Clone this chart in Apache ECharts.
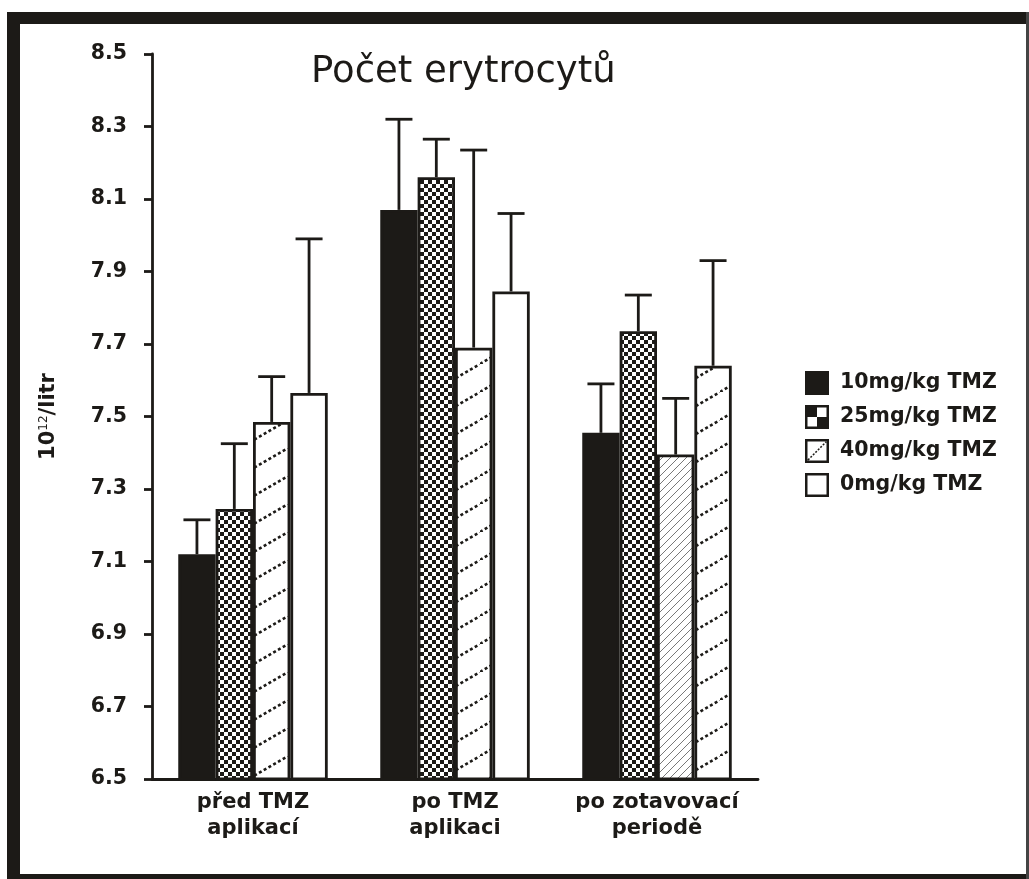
<!DOCTYPE html>
<html>
<head>
<meta charset="utf-8">
<script src="https://cdn.jsdelivr.net/npm/echarts@6/dist/echarts.min.js"></script>
<style>
html,body{margin:0;padding:0;background:#fff;}
#chart{width:1029px;height:879px;}
</style>
</head>
<body>
<div id="chart"></div>
<script>
// ---- data ----
var categories = ['před TMZ\naplikací', 'po TMZ\naplikaci', 'po zotavovací\nperiodě'];
var seriesNames = ['10mg/kg TMZ', '25mg/kg TMZ', '40mg/kg TMZ', '0mg/kg TMZ'];
var mean10 = [7.12, 8.07, 7.455];
var mean25 = [7.245, 8.16, 7.735];
var mean40 = [7.485, 7.69, 7.395];
var mean0  = [7.565, 7.845, 7.64];
var upper10 = [7.215, 8.32, 7.59];
var upper25 = [7.425, 8.265, 7.835];
var upper40 = [7.61, 8.235, 7.55];
var upper0  = [7.99, 8.06, 7.93];
var yTicks = [6.5, 6.7, 6.9, 7.1, 7.3, 7.5, 7.7, 7.9, 8.1, 8.3, 8.5];
var titleText = 'Počet erytrocytů';

// ---- patterns ----
var INK = '#1c1a17';
function makeCanvas(w, h, draw) {
  var c = document.createElement('canvas');
  c.width = w; c.height = h;
  var ctx = c.getContext('2d');
  draw(ctx, w, h);
  return c;
}
var checkerCanvas = makeCanvas(8, 8, function (ctx, w, h) {
  ctx.fillStyle = '#fff'; ctx.fillRect(0, 0, w, h);
  ctx.fillStyle = INK;
  ctx.fillRect(0, 0, 4, 4); ctx.fillRect(4, 4, 4, 4);
});
var hatchCanvas = makeCanvas(48, 28, function (ctx, w, h) {
  ctx.fillStyle = '#fff'; ctx.fillRect(0, 0, w, h);
  ctx.strokeStyle = INK; ctx.lineWidth = 2.6;
  ctx.setLineDash([3, 2.5]);
  ctx.beginPath(); ctx.moveTo(0, h); ctx.lineTo(w, 0); ctx.stroke();
});
var fineCanvas = makeCanvas(8, 8, function (ctx, w, h) {
  ctx.fillStyle = '#fff'; ctx.fillRect(0, 0, w, h);
  ctx.strokeStyle = '#6a6a6a'; ctx.lineWidth = 0.9;
  ctx.beginPath();
  ctx.moveTo(0, h); ctx.lineTo(w, 0);
  ctx.moveTo(-1, 1); ctx.lineTo(1, -1);
  ctx.moveTo(w - 1, h + 1); ctx.lineTo(w + 1, h - 1);
  ctx.stroke();
});
var checkerFill = { image: checkerCanvas, repeat: 'repeat' };
var hatchFill = { image: hatchCanvas, repeat: 'repeat' };
var fineFill = { image: fineCanvas, repeat: 'repeat' };

function iconURL(kind) {
  var c = makeCanvas(48, 48, function (ctx, w, h) {
    ctx.fillStyle = '#fff'; ctx.fillRect(0, 0, w, h);
    if (kind === 'black') { ctx.fillStyle = INK; ctx.fillRect(0, 0, w, h); }
    if (kind === 'checker') {
      ctx.fillStyle = INK;
      ctx.fillRect(4, 4, 20, 20); ctx.fillRect(24, 24, 20, 20);
    }
    if (kind === 'hatch') {
      ctx.strokeStyle = INK; ctx.lineWidth = 3; ctx.setLineDash([4, 3]);
      ctx.beginPath(); ctx.moveTo(6, 42); ctx.lineTo(42, 6); ctx.stroke();
      ctx.setLineDash([]);
    }
    ctx.strokeStyle = INK; ctx.lineWidth = 5;
    ctx.strokeRect(2.5, 2.5, w - 5, h - 5);
  });
  return 'image://' + c.toDataURL();
}

var FONT = 'DejaVu Sans';
var means = [mean10, mean25, mean40, mean0];
var uppers = [upper10, upper25, upper40, upper0];
var fills = [INK, checkerFill, hatchFill, '#ffffff'];
var overrideFill = { '2,2': fineFill, '3,2': hatchFill };

var barSeries = means.map(function (arr, k) {
  return {
    name: seriesNames[k],
    type: 'bar',
    barWidth: '18.5%',
    barGap: '0%',
    z: 2,
    itemStyle: { color: fills[k], borderColor: INK, borderWidth: 2.8 },
    data: arr.map(function (v, i) {
      var o = overrideFill[k + ',' + i];
      return o ? { value: v, itemStyle: { color: o } } : v;
    })
  };
});

var errData = [];
means.forEach(function (arr, k) {
  arr.forEach(function (v, i) { errData.push([i, k, v, uppers[k][i]]); });
});

var errSeries = {
  type: 'custom',
  name: 'err',
  z: 3,
  encode: { x: 0, y: 3 },
  data: errData,
  renderItem: function (params, api) {
    var cat = api.value(0), k = api.value(1), m = api.value(2), u = api.value(3);
    var band = api.size([1, 0])[0];
    var bw = band * 0.185;
    var p0 = api.coord([cat, m]);
    var p1 = api.coord([cat, u]);
    var x = p0[0] + (k - 1.5) * bw;
    var cap = 13.5;
    var st = { stroke: INK, lineWidth: 2.8 };
    return {
      type: 'group',
      children: [
        { type: 'line', shape: { x1: x, y1: p0[1], x2: x, y2: p1[1] }, style: st },
        { type: 'line', shape: { x1: x - cap, y1: p1[1], x2: x + cap, y2: p1[1] }, style: st }
      ]
    };
  }
};

var chart = echarts.init(document.getElementById('chart'), null, { renderer: 'canvas' });
chart.setOption({
  backgroundColor: '#ffffff',
  animation: false,
  title: {
    text: titleText,
    left: 306, top: 49,
    textStyle: { fontFamily: FONT, fontSize: 37, fontWeight: 500, color: INK }
  },
  legend: {
    orient: 'vertical',
    left: 800, top: 366,
    itemWidth: 24, itemHeight: 24, itemGap: 10,
    data: [
      { name: seriesNames[0], icon: iconURL('black') },
      { name: seriesNames[1], icon: iconURL('checker') },
      { name: seriesNames[2], icon: iconURL('hatch') },
      { name: seriesNames[3], icon: iconURL('white') }
    ],
    textStyle: { fontFamily: FONT, fontWeight: 'bold', fontSize: 20.5, color: INK, padding: [0, 0, 0, 6] }
  },
  grid: { left: 152, right: 271, top: 54, bottom: 100, containLabel: false },
  xAxis: {
    type: 'category',
    data: categories,
    axisLine: { lineStyle: { color: INK, width: 2.8 } },
    axisTick: { length: 7, lineStyle: { color: INK, width: 2.8 } },
    axisLabel: { interval: 0, fontFamily: FONT, fontWeight: 'bold', fontSize: 21, lineHeight: 26, color: INK, margin: 11 }
  },
  yAxis: {
    type: 'value',
    min: 6.5, max: 8.5,
    name: '10{sup|12}/litr',
    nameLocation: 'middle',
    nameRotate: 90,
    nameGap: 92,
    nameTextStyle: {
      fontFamily: FONT, fontWeight: 'bold', fontSize: 21, color: INK,
      rich: { sup: { fontFamily: FONT, fontSize: 12, fontWeight: 'normal', color: INK, verticalAlign: 'bottom', padding: [0, 0, 10, 0] } }
    },
    splitLine: { show: false },
    axisLine: { show: true, lineStyle: { color: INK, width: 2.8 } },
    axisTick: { show: true, length: 8, customValues: yTicks, lineStyle: { color: INK, width: 2.8 } },
    axisLabel: {
      customValues: yTicks,
      formatter: function (v) { return v.toFixed(1); },
      fontFamily: FONT, fontWeight: 'bold', fontSize: 20.5, color: INK, margin: 25
    }
  },
  graphic: [
    { type: 'rect', shape: { x: 7, y: 12, width: 1022, height: 12 }, style: { fill: INK }, silent: true },
    { type: 'rect', shape: { x: 7, y: 12, width: 13, height: 867 }, style: { fill: INK }, silent: true },
    { type: 'rect', shape: { x: 7, y: 874, width: 1022, height: 5 }, style: { fill: INK }, silent: true },
    { type: 'rect', shape: { x: 1026, y: 12, width: 3, height: 867 }, style: { fill: '#444' }, silent: true }
  ],
  series: barSeries.concat([errSeries])
});
</script>
</body>
</html>
